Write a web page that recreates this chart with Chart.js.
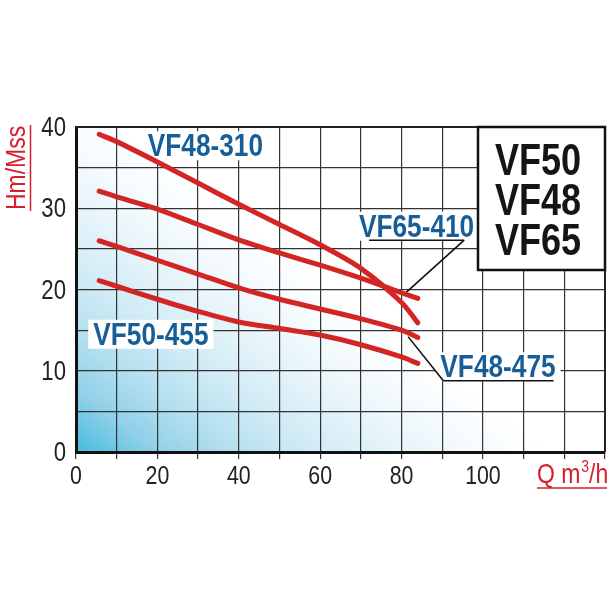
<!DOCTYPE html>
<html>
<head>
<meta charset="utf-8">
<script src="https://cdn.jsdelivr.net/npm/chart.js@4.4.0/dist/chart.umd.min.js"></script>
<style>
  html, body { margin: 0; padding: 0; background: #fff; }
  #wrap { width: 608px; height: 608px; }
</style>
</head>
<body>
<div id="wrap"><canvas id="pumpChart" width="608" height="608"></canvas></div>
<script>
// ------------------------------------------
// Data (Q m3/h -> H m)
// ------------------------------------------
const flowQ    = [5.7, 10, 20, 30, 40, 50, 60, 70, 80, 84];
const vf48_310 = [39.1, 38.2, 35.7, 33.1, 30.5, 28.0, 25.5, 22.6, 18.4, 15.9];
const vf65_410 = [32.1, 31.4, 29.9, 28.0, 26.1, 24.5, 23.0, 21.4, 19.6, 18.9];
const vf48_475 = [26.0, 25.3, 23.6, 21.9, 20.2, 18.8, 17.6, 16.4, 15.0, 14.1];
const vf50_455 = [21.1, 20.4, 18.8, 17.3, 16.0, 15.2, 14.4, 13.2, 11.7, 10.9];

const xTickLabels = [0, 20, 40, 60, 80, 100];
const yTickLabels = [0, 10, 20, 30, 40];
const modelNames  = ['VF50', 'VF48', 'VF65'];

// no narrow font installed -> squeeze Liberation Sans horizontally
const FONT = '"Liberation Sans", Arial, sans-serif';
const SQUEEZE = 0.82;
const RED = '#d71f2b';
const BLUE = '#175e98';

const toPoints = ys => flowQ.map((q, i) => ({ x: q, y: ys[i] }));

const curve = ys => ({
    data: toPoints(ys),
    borderColor: '#d42525',
    borderWidth: 5,
    pointRadius: 0,
    fill: false,
    showLine: true,
    tension: 0.3,
    borderCapStyle: 'round'
});

// squeezed text helper
function text(ctx, str, x, y, font, align, rot) {
    ctx.save();
    ctx.translate(x, y);
    if (rot) ctx.rotate(rot);
    ctx.scale(SQUEEZE, 1);
    ctx.font = font;
    ctx.textAlign = align || 'left';
    ctx.textBaseline = 'alphabetic';
    ctx.fillText(str, 0, 0);
    ctx.restore();
}
function textWidth(ctx, str, font) {
    ctx.save();
    ctx.font = font;
    const w = ctx.measureText(str).width * SQUEEZE;
    ctx.restore();
    return w;
}

// ------------------------------------------
// Gradient background behind the grid
// ------------------------------------------
const bgPlugin = {
    id: 'bg',
    beforeDraw(chart) {
        const { ctx, chartArea: a } = chart;
        const g = ctx.createLinearGradient(a.left, a.bottom, a.left + 173, a.bottom - 230);
        g.addColorStop(0, '#45bbdf');
        g.addColorStop(0.17, '#8fd0e8');
        g.addColorStop(0.34, '#b5e0ef');
        g.addColorStop(0.5, '#d0ebf5');
        g.addColorStop(0.68, '#e6f4fa');
        g.addColorStop(0.85, '#f6fbfe');
        g.addColorStop(1, '#ffffff');
        ctx.save();
        ctx.fillStyle = g;
        ctx.fillRect(a.left, a.top, a.right - a.left, a.bottom - a.top);
        ctx.restore();
    }
};

// ------------------------------------------
// Labels, pointer lines, model box, axis titles
// ------------------------------------------
const curveLabels = [
    { text: 'VF48-310', q: 31.8, h: 36.4 },
    { text: 'VF65-410', q: 83.7, h: 26.5, lead: { side: 'right', to: [80.6, 19.4] } },
    { text: 'VF50-455', q: 18.4, h: 13.2 },
    { text: 'VF48-475', q: 103.7, h: 9.2, lead: { side: 'left', to: [81.6, 14.2] } }
];

// curve names go under the red curves
const labelPlugin = {
    id: 'labels',
    beforeDatasetsDraw(chart) {
        const { ctx, scales: { x, y } } = chart;
        const lf = 'bold 32px ' + FONT;
        ctx.save();
        curveLabels.forEach(l => {
            const px = x.getPixelForValue(l.q), py = y.getPixelForValue(l.h);
            const w = textWidth(ctx, l.text, lf);
            const left = px - w / 2, right = px + w / 2;
            ctx.fillStyle = '#fff';
            ctx.fillRect(left - 5, py - 25, w + 10, 29);
            if (l.lead) {
                const tx = x.getPixelForValue(l.lead.to[0]), ty = y.getPixelForValue(l.lead.to[1]);
                const uy = py + 3.5;
                const u0 = l.lead.side === 'right' ? left + 10 : left + 3;
                const u1 = l.lead.side === 'right' ? right - 10 : right - 2;
                const start = l.lead.side === 'right' ? u1 : u0;
                ctx.strokeStyle = '#111';
                ctx.lineWidth = 1.6;
                ctx.beginPath();
                ctx.moveTo(u0, uy); ctx.lineTo(u1, uy);
                ctx.moveTo(start, uy); ctx.lineTo(tx, ty);
                ctx.stroke();
            }
            ctx.fillStyle = BLUE;
            text(ctx, l.text, px, py, lf, 'center');
        });
        ctx.restore();
    }
};

const annotPlugin = {
    id: 'annot',
    afterDraw(chart) {
        const { ctx, chartArea: a, scales: { x, y } } = chart;
        ctx.save();

        // top and right frame
        ctx.strokeStyle = '#222';
        ctx.lineWidth = 2;
        ctx.beginPath();
        ctx.moveTo(a.left, a.top); ctx.lineTo(a.right, a.top); ctx.lineTo(a.right, a.bottom);
        ctx.stroke();

        // tick labels
        ctx.fillStyle = '#222';
        xTickLabels.forEach(v => text(ctx, String(v), x.getPixelForValue(v), a.bottom + 32, '26px ' + FONT, 'center'));
        yTickLabels.forEach(v => text(ctx, String(v), a.left - 10, y.getPixelForValue(v) + 9, '27px ' + FONT, 'right'));

        // axis titles (red, underlined)
        ctx.fillStyle = RED;
        ctx.strokeStyle = RED;
        ctx.lineWidth = 1.5;
        text(ctx, 'Hm/Mss', 25, 210, '28px ' + FONT, 'left', -Math.PI / 2);
        ctx.beginPath(); ctx.moveTo(30.5, 125); ctx.lineTo(30.5, 211); ctx.stroke();

        const qx = 537, qy = a.bottom + 31;
        text(ctx, 'Q m', qx, qy, '28px ' + FONT, 'left');
        let cx = qx + textWidth(ctx, 'Q m', '28px ' + FONT);
        text(ctx, '3', cx + 1, qy - 11, '17px ' + FONT, 'left');
        cx += textWidth(ctx, '3', '17px ' + FONT) + 1;
        text(ctx, '/h', cx, qy, '28px ' + FONT, 'left');
        ctx.beginPath(); ctx.moveTo(qx, qy + 5); ctx.lineTo(607, qy + 5); ctx.stroke();

        // model box
        const bx = 478, by = a.top, bb = 270;
        ctx.fillStyle = '#fff';
        ctx.fillRect(bx, by, a.right - bx, bb - by);
        ctx.lineWidth = 2.5;
        ctx.strokeStyle = '#111';
        ctx.strokeRect(bx, by, a.right - bx, bb - by);
        ctx.fillStyle = '#151515';
        modelNames.forEach((m, i) => text(ctx, m, 538, 175 + i * 40, 'bold 44px ' + FONT, 'center'));

        ctx.restore();
    }
};

new Chart(document.getElementById('pumpChart'), {
    type: 'scatter',
    data: {
        datasets: [curve(vf48_310), curve(vf65_410), curve(vf48_475), curve(vf50_455)]
    },
    options: {
        responsive: false,
        animation: false,
        layout: { padding: { top: 127, right: 3, bottom: 116, left: 0 } },
        plugins: { legend: { display: false }, tooltip: { enabled: false } },
        scales: {
            x: {
                type: 'linear', min: 0, max: 130,
                afterFit: s => { s.height = 40; },
                border: { color: '#111', width: 3 },
                grid: { color: '#333', lineWidth: 1.2, tickLength: 7 },
                ticks: { stepSize: 10, display: false }
            },
            y: {
                type: 'linear', min: 0, max: 40,
                afterFit: s => { s.width = 76; },
                border: { color: '#111', width: 3 },
                grid: { color: '#333', lineWidth: 1.2, drawTicks: false },
                ticks: { stepSize: 5, display: false }
            }
        }
    },
    plugins: [bgPlugin, labelPlugin, annotPlugin]
});
</script>
</body>
</html>
